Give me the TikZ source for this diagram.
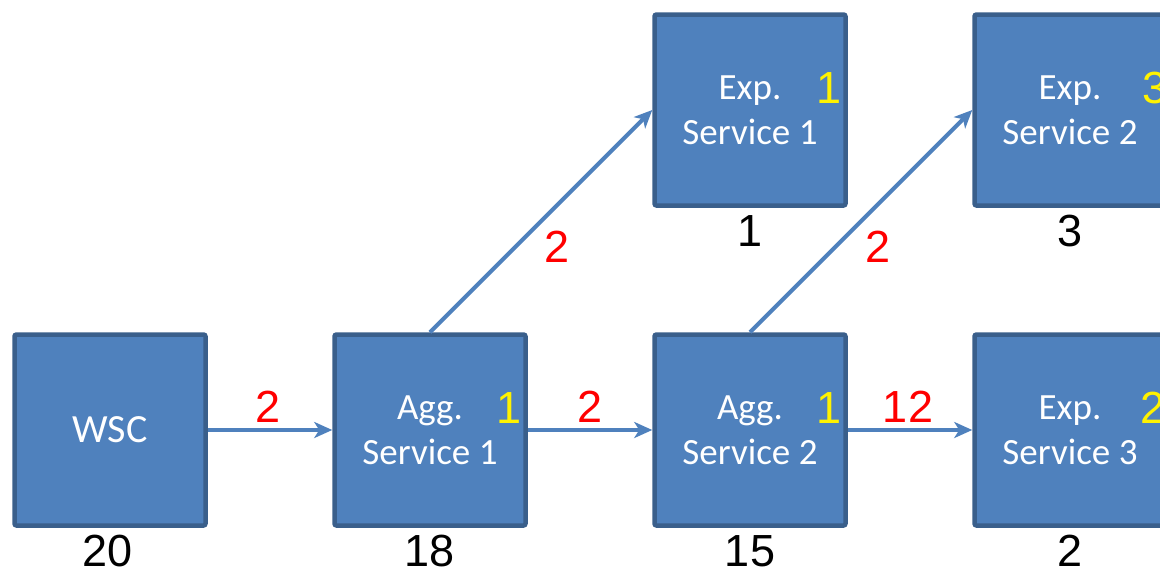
\documentclass[tikz,border=0pt]{standalone}
\usepackage{fontspec}
\setmainfont{Liberation Sans}
\newfontfamily\boxfont{Carlito}
\usetikzlibrary{arrows.meta}
\definecolor{boxfill}{HTML}{4F81BD}
\definecolor{boxline}{HTML}{3A5F8B}
\definecolor{arrowcol}{HTML}{4F81BD}
\begin{document}
\begin{tikzpicture}[x=1pt,y=-1pt,
  svc/.style={draw=boxline, line width=4.5pt, fill=boxfill, rounded corners=2pt,
    minimum width=191pt, minimum height=191pt, inner sep=0pt, text=white,
    align=center, font=\boxfont\fontsize{37}{45}\selectfont},
  arr/.style={draw=arrowcol, line width=4pt, -{Stealth[length=18pt,width=16pt,inset=5pt]}},
  num/.style={font=\fontsize{45}{50}\selectfont, anchor=base, inner sep=0pt},
  rednum/.style={num, text=red},
  yelnum/.style={num, text=yellow},
  blknum/.style={num, text=black}]
\useasboundingbox (0,0) rectangle (1160,571);
\begin{scope}
\clip (0,0) rectangle (1160,571);
\node[svc] (wsc)  at (110,430) {\fontsize{40}{45}\selectfont WSC};
\node[svc] (agg1) at (430,430) {Agg.\\Service 1};
\node[svc] (agg2) at (750,430) {Agg.\\Service 2};
\node[svc] (exp3) at (1070,430) {Exp.\\Service 3};
\node[svc] (exp1) at (750,110) {Exp.\\Service 1};
\node[svc] (exp2) at (1070,110) {Exp.\\Service 2};

\draw[arr] (wsc.east) -- (agg1.west);
\draw[arr] (agg1.east) -- (agg2.west);
\draw[arr] (agg2.east) -- (exp3.west);
\draw[arr] (agg1.north) -- (exp1.west);
\draw[arr] (agg2.north) -- (exp2.west);

\node[rednum] (l1) at (268,422) {2};
\node[rednum] (l2) at (590,422) {2};
\node[rednum] (l3) at (908,422) {12};
\node[rednum] (l4) at (557,262) {2};
\node[rednum] (l5) at (878,262) {2};

\node[yelnum] (y1) at (509,423) {1};
\node[yelnum] (y2) at (829,423) {1};
\node[yelnum] (y3) at (1153,423) {2};
\node[yelnum] (y4) at (829,103) {1};
\node[yelnum] (y5) at (1155,103) {3};

\node[blknum] (b1) at (108,566) {20};
\node[blknum] (b2) at (430,566) {18};
\node[blknum] (b3) at (750,566) {15};
\node[blknum] (b4) at (1070,566) {2};
\node[blknum] (b5) at (750,246) {1};
\node[blknum] (b6) at (1070,246) {3};
\end{scope}
\end{tikzpicture}
\end{document}
